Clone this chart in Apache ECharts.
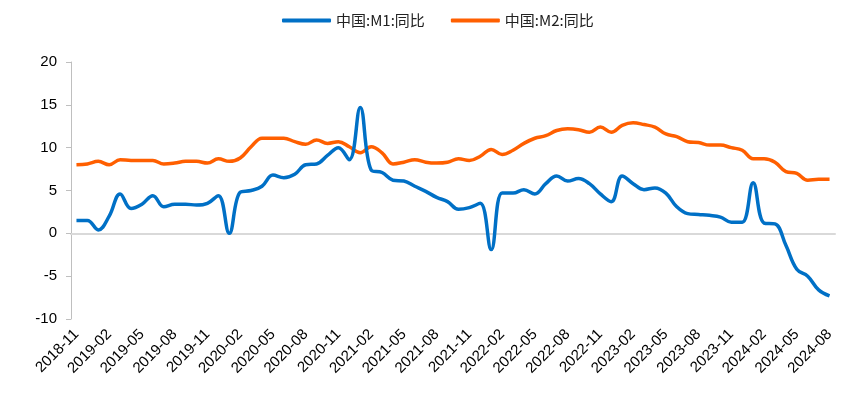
<!DOCTYPE html>
<html lang="zh">

<head>
    <meta charset="UTF-8">
    <title>M1 M2</title>
    <script src="https://cdn.jsdelivr.net/npm/echarts@6/dist/echarts.min.js"></script>
    <style>
        html, body {
            margin: 0;
            padding: 0;
            background: #fff;
        }

        #main {
            width: 865px;
            height: 397px;
        }
    </style>
</head>

<body>
    <div id="main"></div>
    <script>
        var months = [
            '2018-11', '2018-12',
            '2019-01', '2019-02', '2019-03', '2019-04', '2019-05', '2019-06',
            '2019-07', '2019-08', '2019-09', '2019-10', '2019-11', '2019-12',
            '2020-01', '2020-02', '2020-03', '2020-04', '2020-05', '2020-06',
            '2020-07', '2020-08', '2020-09', '2020-10', '2020-11', '2020-12',
            '2021-01', '2021-02', '2021-03', '2021-04', '2021-05', '2021-06',
            '2021-07', '2021-08', '2021-09', '2021-10', '2021-11', '2021-12',
            '2022-01', '2022-02', '2022-03', '2022-04', '2022-05', '2022-06',
            '2022-07', '2022-08', '2022-09', '2022-10', '2022-11', '2022-12',
            '2023-01', '2023-02', '2023-03', '2023-04', '2023-05', '2023-06',
            '2023-07', '2023-08', '2023-09', '2023-10', '2023-11', '2023-12',
            '2024-01', '2024-02', '2024-03', '2024-04', '2024-05', '2024-06',
            '2024-07', '2024-08'
        ];

        // 中国:M1:同比 (%)
        var m1 = [
            1.5, 1.5,
            0.4, 2.0, 4.6, 2.9, 3.4, 4.4, 3.1, 3.4, 3.4, 3.3, 3.5, 4.4,
            0.0, 4.8, 5.0, 5.5, 6.8, 6.5, 6.9, 8.0, 8.1, 9.1, 10.0, 8.6,
            14.7, 7.4, 7.1, 6.2, 6.1, 5.5, 4.9, 4.2, 3.7, 2.8, 3.0, 3.5,
            -1.9, 4.7, 4.7, 5.1, 4.6, 5.8, 6.7, 6.1, 6.4, 5.8, 4.6, 3.7,
            6.7, 5.8, 5.1, 5.3, 4.7, 3.1, 2.3, 2.2, 2.1, 1.9, 1.3, 1.3,
            5.9, 1.2, 1.1, -1.4, -4.2, -5.0, -6.6, -7.3
        ];

        // 中国:M2:同比 (%)
        var m2 = [
            8.0, 8.1,
            8.4, 8.0, 8.6, 8.5, 8.5, 8.5, 8.1, 8.2, 8.4, 8.4, 8.2, 8.7,
            8.4, 8.8, 10.1, 11.1, 11.1, 11.1, 10.7, 10.4, 10.9, 10.5, 10.7, 10.1,
            9.4, 10.1, 9.4, 8.1, 8.3, 8.6, 8.3, 8.2, 8.3, 8.7, 8.5, 9.0,
            9.8, 9.2, 9.7, 10.5, 11.1, 11.4, 12.0, 12.2, 12.1, 11.8, 12.4, 11.8,
            12.6, 12.9, 12.7, 12.4, 11.6, 11.3, 10.7, 10.6, 10.3, 10.3, 10.0, 9.7,
            8.7, 8.7, 8.3, 7.2, 7.0, 6.2, 6.3, 6.3
        ];

        var seriesNames = ['中国:M1:同比', '中国:M2:同比'];
        var colors = ['#0070C6', '#FF5F00'];

        var chart = echarts.init(document.getElementById('main'), null, { renderer: 'canvas' });

        var option = {
            animation: false,
            color: colors,
            textStyle: {
                fontFamily: 'Liberation Sans, Arial, Noto Sans CJK SC, sans-serif'
            },
            legend: {
                top: 8,
                left: 277,
                itemGap: 26,
                itemWidth: 49,
                itemHeight: 4,
                icon: 'roundRect',
                textStyle: {
                    fontSize: 15,
                    color: '#222',
                    fontFamily: 'Noto Sans CJK SC, Liberation Sans, sans-serif'
                },
                data: seriesNames
            },
            grid: {
                left: 71,
                right: 30,
                top: 62,
                bottom: 78
            },
            xAxis: [{
                type: 'category',
                data: months,
                boundaryGap: true,
                axisLine: {
                    onZero: true,
                    lineStyle: { color: '#D9D9D9', width: 2 }
                },
                axisTick: {
                    inside: true,
                    length: 5,
                    interval: 2,
                    lineStyle: { color: '#D9D9D9', width: 1.5 }
                },
                axisLabel: { show: false },
                splitLine: { show: false }
            }, {
                type: 'category',
                data: months,
                position: 'bottom',
                boundaryGap: true,
                axisLine: { show: false, onZero: false },
                axisTick: { show: false },
                axisLabel: {
                    interval: 2,
                    rotate: 45,
                    margin: 13,
                    fontSize: 15,
                    color: '#000'
                },
                splitLine: { show: false }
            }],
            yAxis: {
                type: 'value',
                min: -10,
                max: 20,
                interval: 5,
                axisLine: {
                    show: true,
                    lineStyle: { color: '#BFBFBF', width: 1 }
                },
                axisTick: {
                    show: true,
                    length: 5,
                    lineStyle: { color: '#BFBFBF' }
                },
                axisLabel: {
                    fontSize: 15,
                    color: '#000',
                    margin: 14
                },
                splitLine: { show: false }
            },
            series: [{
                name: seriesNames[0],
                type: 'line',
                xAxisIndex: 0,
                data: m1,
                smooth: 0.4,
                showSymbol: false,
                lineStyle: { width: 3.5, color: colors[0] },
                z: 3
            }, {
                name: seriesNames[1],
                type: 'line',
                xAxisIndex: 0,
                data: m2,
                smooth: 0.4,
                showSymbol: false,
                lineStyle: { width: 3.5, color: colors[1] },
                z: 2
            }]
        };

        chart.setOption(option);
    </script>
</body>

</html>
